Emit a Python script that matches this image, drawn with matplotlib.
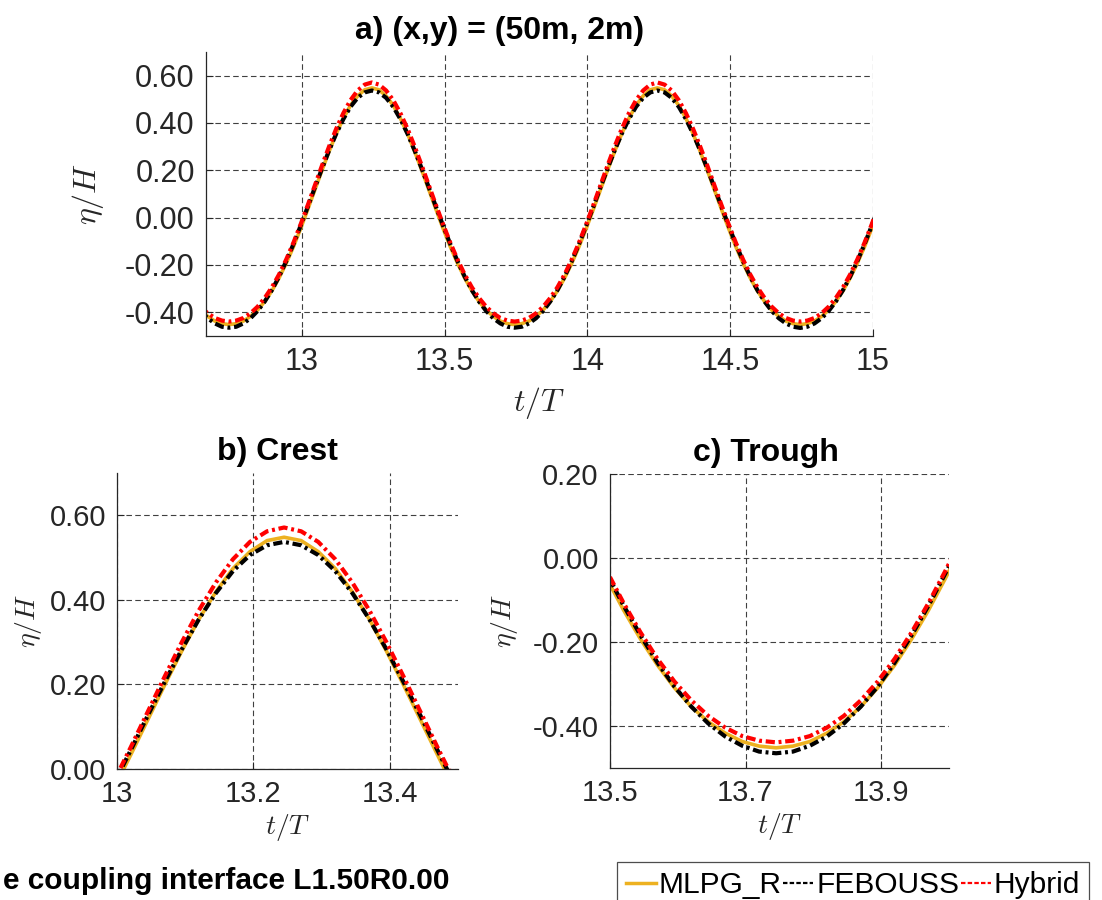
import matplotlib
matplotlib.use("Agg")
import matplotlib.pyplot as plt
import numpy as np
from matplotlib.lines import Line2D
from matplotlib.ticker import FormatStrFormatter, FuncFormatter

plt.rcParams['font.family'] = ['Liberation Sans', 'DejaVu Sans']
plt.rcParams['mathtext.fontset'] = 'cm'
plt.rcParams['axes.unicode_minus'] = False

# time axis t/T, sampled every 0.025
t = np.round(12.645 + 0.025 * np.arange(96), 3)

mlpg = [
    -0.390, -0.417, -0.437, -0.448, -0.452,
    -0.448, -0.437, -0.417, -0.390, -0.354, -0.309, -0.255, -0.193, -0.124, -0.048,
    0.033, 0.116, 0.199, 0.279, 0.354, 0.419, 0.474, 0.514, 0.540,
    0.548,
    0.540, 0.514, 0.474, 0.419, 0.354, 0.279, 0.199, 0.116, 0.033, -0.048,
    -0.124, -0.193, -0.255, -0.309, -0.354, -0.390, -0.417, -0.437, -0.448, -0.452,
    -0.448, -0.437, -0.417, -0.390, -0.354, -0.309, -0.255, -0.193, -0.124, -0.048,
    0.033, 0.116, 0.199, 0.279, 0.354, 0.419, 0.474, 0.514, 0.540,
    0.548,
    0.540, 0.514, 0.474, 0.419, 0.354, 0.279, 0.199, 0.116, 0.033, -0.048,
    -0.124, -0.193, -0.255, -0.309, -0.354, -0.390, -0.417, -0.437, -0.448, -0.452,
    -0.448, -0.437, -0.417, -0.390, -0.354, -0.309, -0.255, -0.193, -0.124, -0.048,
    0.033,
]

febouss = [
    -0.394, -0.425, -0.447, -0.461, -0.465,
    -0.461, -0.447, -0.425, -0.394, -0.354, -0.306, -0.249, -0.184, -0.113, -0.036,
    0.044, 0.126, 0.206, 0.283, 0.354, 0.416, 0.468, 0.506, 0.529,
    0.537,
    0.529, 0.506, 0.468, 0.416, 0.354, 0.283, 0.206, 0.126, 0.044, -0.036,
    -0.113, -0.184, -0.249, -0.306, -0.354, -0.394, -0.425, -0.447, -0.461, -0.465,
    -0.461, -0.447, -0.425, -0.394, -0.354, -0.306, -0.249, -0.184, -0.113, -0.036,
    0.044, 0.126, 0.206, 0.283, 0.354, 0.416, 0.468, 0.506, 0.529,
    0.537,
    0.529, 0.506, 0.468, 0.416, 0.354, 0.283, 0.206, 0.126, 0.044, -0.036,
    -0.113, -0.184, -0.249, -0.306, -0.354, -0.394, -0.425, -0.447, -0.461, -0.466,
    -0.461, -0.447, -0.425, -0.394, -0.354, -0.306, -0.249, -0.184, -0.113, -0.036,
    0.044,
]

hybrid = [
    -0.376, -0.404, -0.424, -0.435, -0.439,
    -0.435, -0.424, -0.404, -0.376, -0.339, -0.294, -0.240, -0.177, -0.107, -0.030,
    0.051, 0.135, 0.219, 0.300, 0.375, 0.441, 0.496, 0.537, 0.562,
    0.571,
    0.562, 0.537, 0.496, 0.441, 0.375, 0.300, 0.219, 0.135, 0.051, -0.030,
    -0.107, -0.177, -0.240, -0.294, -0.339, -0.376, -0.404, -0.424, -0.435, -0.439,
    -0.435, -0.424, -0.404, -0.376, -0.339, -0.294, -0.240, -0.177, -0.107, -0.030,
    0.051, 0.135, 0.219, 0.300, 0.375, 0.441, 0.496, 0.537, 0.562,
    0.571,
    0.562, 0.537, 0.496, 0.441, 0.375, 0.300, 0.219, 0.135, 0.051, -0.030,
    -0.107, -0.177, -0.240, -0.294, -0.339, -0.376, -0.404, -0.424, -0.435, -0.439,
    -0.435, -0.424, -0.404, -0.376, -0.339, -0.294, -0.240, -0.177, -0.107, -0.030,
    0.051,
]

series_names = ["MLPG_R", "FEBOUSS", "Hybrid"]
colors = ["#EDB120", "k", "#FF0000"]
dashdot = (0, (2.2, 0.9, 0.7, 0.9))


def style_axes(ax, xticks, yticks, xlim, ylim, tick_fs, lab_fs):
    ax.set_xlim(*xlim)
    ax.set_ylim(*ylim)
    ax.set_xticks(xticks)
    ax.set_yticks(yticks)
    ax.xaxis.set_major_formatter(FuncFormatter(lambda v, p: "%g" % v))
    ax.yaxis.set_major_formatter(FormatStrFormatter("%.2f"))
    ax.tick_params(direction="in", length=5, width=0.8, colors="0.15",
                   labelsize=tick_fs, top=False, right=False, pad=8)
    for s in ["top", "right"]:
        ax.spines[s].set_visible(False)
    for s in ["left", "bottom"]:
        ax.spines[s].set_color("0.15")
        ax.spines[s].set_linewidth(0.9)
    ax.grid(True, color="0.25", linestyle=(0, (5, 3)), linewidth=0.8)
    ax.set_axisbelow(True)
    ax.set_xlabel(r"$t/T$", fontsize=lab_fs, color="0.15")
    ax.set_ylabel(r"$\eta/H$", fontsize=lab_fs, color="0.15")


def draw(ax):
    ax.plot(t, mlpg, color=colors[0], lw=2.6, solid_capstyle="butt")
    ax.plot(t, febouss, color=colors[1], lw=3.0, linestyle=dashdot)
    ax.plot(t, hybrid, color=colors[2], lw=3.0, linestyle=dashdot)


fig = plt.figure(figsize=(11.02, 9.0), dpi=100)
ax_a = fig.add_axes([0.1869, 0.6267, 0.6053, 0.3156])
ax_b = fig.add_axes([0.1062, 0.1456, 0.3094, 0.3289])
ax_c = fig.add_axes([0.5535, 0.1467, 0.3076, 0.3267])

for ax in (ax_a, ax_b, ax_c):
    draw(ax)

style_axes(ax_a, [13, 13.5, 14, 14.5, 15], [-0.4, -0.2, 0, 0.2, 0.4, 0.6],
           (12.664, 15), (-0.5, 0.7), 22, 23)
style_axes(ax_b, [13, 13.2, 13.4], [0, 0.2, 0.4, 0.6],
           (13, 13.5), (0, 0.7), 21, 20)
style_axes(ax_c, [13.5, 13.7, 13.9], [-0.4, -0.2, 0, 0.2],
           (13.5, 14), (-0.5, 0.2), 21, 20)

ax_a.yaxis.set_label_coords(-0.150, 0.5)
ax_a.xaxis.set_label_coords(0.5, -0.172)
ax_b.yaxis.set_label_coords(-0.215, 0.5)
ax_b.xaxis.set_label_coords(0.5, -0.145)
ax_c.yaxis.set_label_coords(-0.265, 0.5)
ax_c.xaxis.set_label_coords(0.5, -0.145)

ax_a.set_title("a) (x,y) = (50m, 2m)", fontsize=23, fontweight="bold", x=0.44, pad=9)
ax_b.set_title("b) Crest", fontsize=23, fontweight="bold", x=0.47, pad=9)
ax_c.set_title("c) Trough", fontsize=23, fontweight="bold", x=0.46, pad=9)

fig.text(3 / 1102, 1 - 881 / 900, "e coupling interface L1.50R0.00",
         ha="left", va="center", fontsize=21.5, fontweight="bold")

handles = [
    Line2D([], [], color=colors[0], lw=2.5),
    Line2D([], [], color=colors[1], lw=1.6, linestyle=(0, (2, 1))),
    Line2D([], [], color=colors[2], lw=1.6, linestyle=(0, (2, 1))),
]
leg = fig.legend(handles, series_names, loc="upper left",
                 bbox_to_anchor=(617 / 1102, 1 - 862 / 900), ncol=3,
                 fancybox=False, edgecolor="0.3", framealpha=1,
                 handlelength=1.0, handletextpad=0.1, columnspacing=0.05,
                 borderpad=0.3, borderaxespad=0, fontsize=21.5)
leg.get_frame().set_linewidth(0.9)

fig.savefig("out.png", dpi=100)
